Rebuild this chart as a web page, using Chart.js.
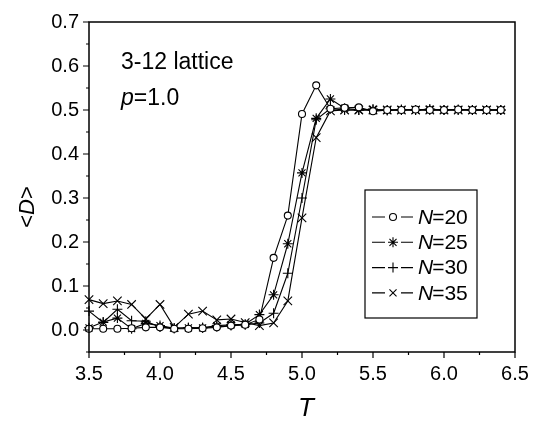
<!DOCTYPE html>
<html lang="en">
<head>
  <meta charset="UTF-8">
  <title>3-12 lattice</title>
  <script src="https://cdn.jsdelivr.net/npm/chart.js"></script>
  <style>
    html, body { margin: 0; padding: 0; background: #fff; }
    #wrap { width: 539px; height: 424px; }
  </style>
</head>
<body>
<div id="wrap"><canvas id="chart" width="539" height="424"></canvas></div>
<script>
    // temperatures T
    const temps = [3.5, 3.6, 3.7, 3.8, 3.9, 4.0, 4.1, 4.2, 4.3, 4.4, 4.5, 4.6, 4.7, 4.8, 4.9,
                   5.0, 5.1, 5.2, 5.3, 5.4, 5.5, 5.6, 5.7, 5.8, 5.9, 6.0, 6.1, 6.2, 6.3, 6.4];

    // <D> for each system size
    const n20 = [0.003, 0.003, 0.003, 0.004, 0.006, 0.006, 0.003, 0.003, 0.004, 0.006, 0.010, 0.012, 0.024, 0.164, 0.260,
                 0.491, 0.556, 0.503, 0.505, 0.506, 0.497, 0.500, 0.500, 0.501, 0.500, 0.500, 0.501, 0.500, 0.500, 0.500];
    const n25 = [0.005, 0.018, 0.027, 0.003, 0.015, 0.010, 0.004, 0.005, 0.005, 0.010, 0.012, 0.013, 0.035, 0.080, 0.196,
                 0.357, 0.481, 0.525, 0.504, 0.500, 0.502, 0.499, 0.501, 0.500, 0.502, 0.500, 0.501, 0.500, 0.500, 0.500];
    const n30 = [0.043, 0.017, 0.047, 0.021, 0.020, 0.007, 0.004, 0.005, 0.005, 0.008, 0.010, 0.012, 0.016, 0.038, 0.129,
                 0.300, 0.478, 0.503, 0.500, 0.500, 0.500, 0.500, 0.500, 0.500, 0.500, 0.500, 0.500, 0.500, 0.500, 0.500];
    const n35 = [0.069, 0.060, 0.066, 0.058, 0.025, 0.058, 0.006, 0.036, 0.043, 0.023, 0.025, 0.017, 0.010, 0.016, 0.066,
                 0.255, 0.437, 0.498, 0.500, 0.500, 0.500, 0.500, 0.500, 0.500, 0.500, 0.500, 0.500, 0.500, 0.500, 0.500];

    const seriesNames = ['20', '25', '30', '35'];
    const xTicks = [3.5, 4.0, 4.5, 5.0, 5.5, 6.0, 6.5];
    const yTicks = [0.0, 0.1, 0.2, 0.3, 0.4, 0.5, 0.6, 0.7];

    const FONT = '"Liberation Sans", Arial, sans-serif';

    const styles = [
        { pointStyle: 'circle',   radius: 3.5, bg: '#fff' },
        { pointStyle: 'star',     radius: 5,   bg: '#000' },
        { pointStyle: 'cross',    radius: 5,   bg: '#000' },
        { pointStyle: 'crossRot', radius: 6,   bg: '#000' }
    ];

    const allSeries = [n20, n25, n30, n35];

    const datasets = allSeries.map((arr, i) => ({
        label: 'N=' + seriesNames[i],
        data: temps.map((t, j) => ({ x: t, y: arr[j] })),
        borderColor: '#000',
        borderWidth: 1.1,
        pointStyle: styles[i].pointStyle,
        pointRadius: styles[i].radius,
        pointBackgroundColor: styles[i].bg,
        pointBorderColor: '#000',
        pointBorderWidth: 1.1,
        tension: 0,
        clip: false
    }));

    // frame, ticks, text, axis titles and the boxed legend
    const decor = {
        id: 'decor',
        afterDraw(chart) {
            const ctx = chart.ctx;
            const a = chart.chartArea;
            const xs = chart.scales.x, ys = chart.scales.y;
            ctx.save();
            ctx.strokeStyle = '#000';
            ctx.lineWidth = 1.5;
            ctx.strokeRect(a.left, a.top, a.right - a.left, a.bottom - a.top);

            // ticks, pointing outward
            ctx.lineWidth = 1.2;
            ctx.beginPath();
            for (let i = 0; i < xTicks.length; i++) {
                const px = xs.getPixelForValue(xTicks[i]);
                ctx.moveTo(px, a.bottom); ctx.lineTo(px, a.bottom + 6);
                if (i < xTicks.length - 1) {
                    const pm = xs.getPixelForValue((xTicks[i] + xTicks[i + 1]) / 2);
                    ctx.moveTo(pm, a.bottom); ctx.lineTo(pm, a.bottom + 3);
                }
            }
            for (let i = 0; i < yTicks.length; i++) {
                const py = ys.getPixelForValue(yTicks[i]);
                ctx.moveTo(a.left, py); ctx.lineTo(a.left - 6, py);
                const pm = ys.getPixelForValue(yTicks[i] - 0.05);
                ctx.moveTo(a.left, pm); ctx.lineTo(a.left - 3, pm);
            }
            ctx.stroke();

            ctx.fillStyle = '#000';
            ctx.textBaseline = 'alphabetic';
            ctx.textAlign = 'left';

            // annotation
            ctx.font = '23px ' + FONT;
            ctx.fillText('3-12 lattice', 121, 69);
            ctx.font = 'italic 23px ' + FONT;
            ctx.fillText('p', 121, 105);
            let w = ctx.measureText('p').width;
            ctx.font = '23px ' + FONT;
            ctx.fillText('=1.0', 121 + w, 105);

            // x title
            ctx.font = 'italic 26px ' + FONT;
            ctx.textAlign = 'center';
            ctx.textBaseline = 'middle';
            ctx.fillText('T', (a.left + a.right) / 2 + 4, 409);

            // y title <D>
            ctx.save();
            ctx.translate(28, 207);
            ctx.rotate(-Math.PI / 2);
            ctx.font = '22px ' + FONT;
            const w1 = ctx.measureText('<').width;
            ctx.font = 'italic 22px ' + FONT;
            const w2 = ctx.measureText('D').width;
            const total = w1 * 2 + w2;
            ctx.textAlign = 'left';
            let x0 = -total / 2;
            ctx.font = '22px ' + FONT;
            ctx.fillText('<', x0, 0);
            ctx.font = 'italic 22px ' + FONT;
            ctx.fillText('D', x0 + w1, 0);
            ctx.font = '22px ' + FONT;
            ctx.fillText('>', x0 + w1 + w2, 0);
            ctx.restore();

            // legend
            const lx = 365, ly = 190, lw = 112, lh = 128;
            ctx.fillStyle = '#fff';
            ctx.fillRect(lx, ly, lw, lh);
            ctx.lineWidth = 1.2;
            ctx.strokeStyle = '#000';
            ctx.strokeRect(lx, ly, lw, lh);
            for (let i = 0; i < seriesNames.length; i++) {
                const yy = ly + 27 + i * 25.3;
                ctx.lineWidth = 1.1;
                ctx.beginPath();
                ctx.moveTo(lx + 7, yy); ctx.lineTo(lx + 20, yy);
                ctx.moveTo(lx + 36, yy); ctx.lineTo(lx + 48, yy);
                ctx.stroke();
                ctx.fillStyle = styles[i].bg;
                Chart.helpers.drawPoint(ctx, {
                    pointStyle: styles[i].pointStyle,
                    radius: styles[i].pointStyle === 'circle' ? 3.5 : 5,
                    rotation: 0,
                    borderWidth: 1.1
                }, lx + 28, yy);
                ctx.fillStyle = '#000';
                ctx.textAlign = 'left';
                ctx.textBaseline = 'middle';
                ctx.font = 'italic 21px ' + FONT;
                ctx.fillText('N', lx + 53, yy + 1);
                const wn = ctx.measureText('N').width;
                ctx.font = '21px ' + FONT;
                ctx.fillText('=' + seriesNames[i], lx + 53 + wn - 1, yy + 1);
            }
            ctx.restore();
        }
    };

    new Chart(document.getElementById('chart'), {
        type: 'line',
        data: { datasets: datasets },
        options: {
            responsive: false,
            animation: false,
            layout: { padding: { left: 0, top: 15, right: 24, bottom: 0 } },
            plugins: {
                legend: { display: false },
                tooltip: { enabled: false }
            },
            scales: {
                x: {
                    type: 'linear',
                    min: 3.5,
                    max: 6.5,
                    afterBuildTicks: s => { s.ticks = xTicks.map(v => ({ value: v })); },
                    afterFit: s => { s.height = 72; },
                    grid: { display: false, drawTicks: false },
                    border: { display: false },
                    ticks: {
                        padding: 10,
                        color: '#000',
                        font: { family: FONT, size: 20 },
                        maxRotation: 0,
                        callback: v => v.toFixed(1)
                    }
                },
                y: {
                    min: -0.05,
                    max: 0.7,
                    afterBuildTicks: s => { s.ticks = yTicks.map(v => ({ value: v })); },
                    afterFit: s => { s.width = 89; },
                    grid: { display: false, drawTicks: false },
                    border: { display: false },
                    ticks: {
                        padding: 10,
                        color: '#000',
                        font: { family: FONT, size: 20 },
                        callback: v => v.toFixed(1)
                    }
                }
            }
        },
        plugins: [decor]
    });
</script>
</body>
</html>
